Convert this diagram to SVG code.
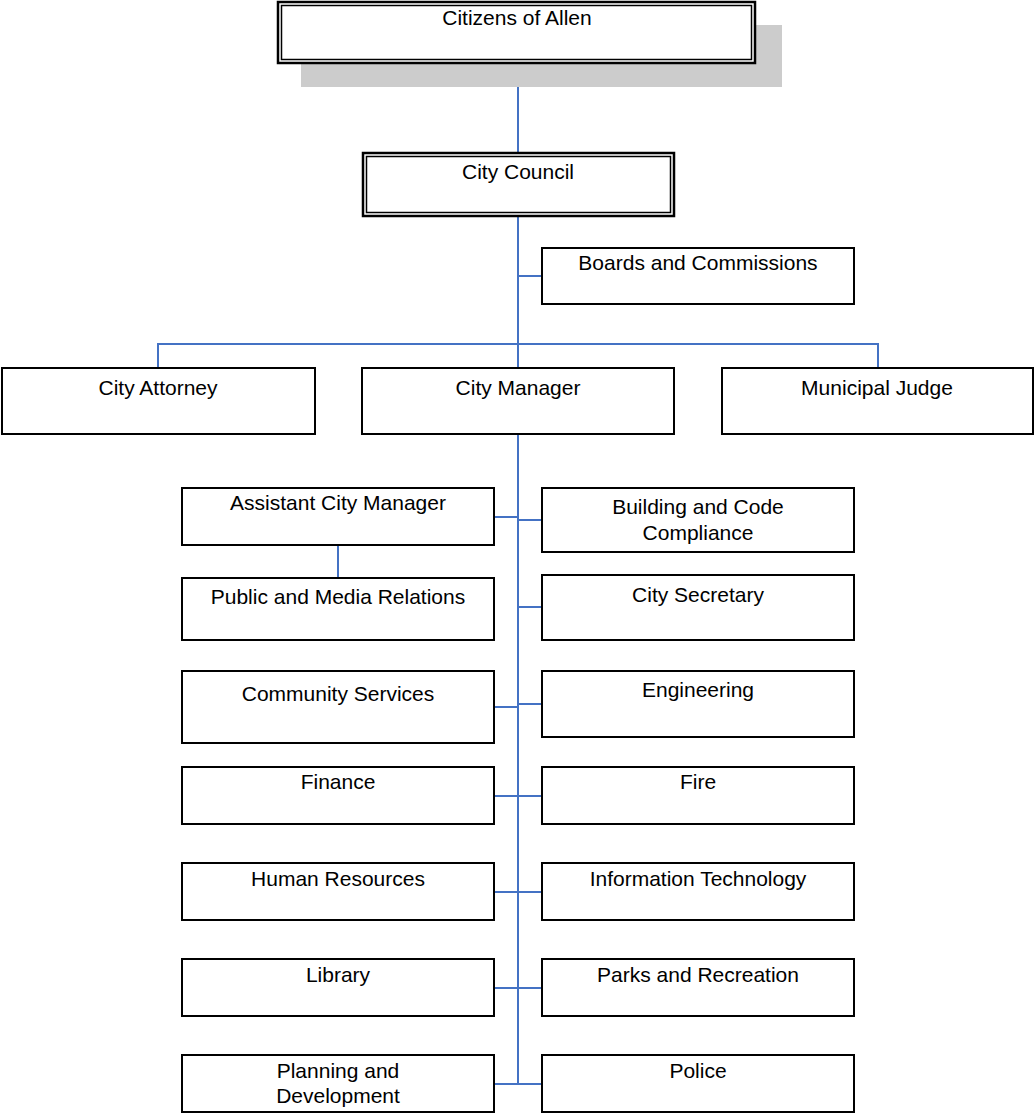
<svg xmlns="http://www.w3.org/2000/svg" width="1034" height="1114" viewBox="0 0 1034 1114">
<style>
.box{fill:#fff;stroke:#000;stroke-width:2}
.dbl{fill:#fff;stroke:#000;stroke-width:2.5}
.inner{fill:none;stroke:#000;stroke-width:1.5}
.lbl{font-family:"Liberation Sans",Arial,sans-serif;font-size:21px;fill:#000;text-anchor:middle}
.con{fill:none;stroke:#4472C4;stroke-width:2}
</style>
<rect width="1034" height="1114" fill="#fff"/>
<g id="connectors">
<path class="con" d="M518 63V152"/>
<path class="con" d="M518 216V368"/>
<path class="con" d="M518 276H542"/>
<path class="con" d="M158 368V344H878V368"/>
<path class="con" d="M518 434V1084"/>
<path class="con" d="M494 517H518M518 520H542"/>
<path class="con" d="M338 545V578"/>
<path class="con" d="M518 607H542"/>
<path class="con" d="M494 707H518M518 704H542"/>
<path class="con" d="M494 796H542"/>
<path class="con" d="M494 892H542"/>
<path class="con" d="M494 988H542"/>
<path class="con" d="M494 1084H542"/>
</g>
<g id="citizens">
<rect x="301" y="25" width="481" height="62" fill="#cccccc"/>
<rect class="dbl" x="278" y="2" width="477" height="61"/>
<rect class="inner" x="281.5" y="5.5" width="470" height="54"/>
<text class="lbl" x="517" y="25">Citizens of Allen</text>
</g>
<g id="council">
<rect class="dbl" x="363" y="153" width="311" height="63"/>
<rect class="inner" x="366.5" y="156.5" width="304" height="56"/>
<text class="lbl" x="518" y="179">City Council</text>
</g>
<g id="boards">
<rect class="box" x="542" y="248" width="312" height="56"/>
<text class="lbl" x="698" y="270">Boards and Commissions</text>
</g>
<g id="attorney">
<rect class="box" x="2" y="368" width="313" height="66"/>
<text class="lbl" x="158" y="395">City Attorney</text>
</g>
<g id="manager">
<rect class="box" x="362" y="368" width="312" height="66"/>
<text class="lbl" x="518" y="395">City Manager</text>
</g>
<g id="judge">
<rect class="box" x="722" y="368" width="311" height="66"/>
<text class="lbl" x="877" y="395">Municipal Judge</text>
</g>
<g id="asst">
<rect class="box" x="182" y="488" width="312" height="57"/>
<text class="lbl" x="338" y="510">Assistant City Manager</text>
</g>
<g id="building">
<rect class="box" x="542" y="488" width="312" height="64"/>
<text class="lbl" x="698" y="514">Building and Code</text>
<text class="lbl" x="698" y="540">Compliance</text>
</g>
<g id="public">
<rect class="box" x="182" y="578" width="312" height="62"/>
<text class="lbl" x="338" y="604">Public and Media Relations</text>
</g>
<g id="secretary">
<rect class="box" x="542" y="575" width="312" height="65"/>
<text class="lbl" x="698" y="602">City Secretary</text>
</g>
<g id="community">
<rect class="box" x="182" y="671" width="312" height="72"/>
<text class="lbl" x="338" y="701">Community Services</text>
</g>
<g id="engineering">
<rect class="box" x="542" y="671" width="312" height="66"/>
<text class="lbl" x="698" y="697">Engineering</text>
</g>
<g id="finance">
<rect class="box" x="182" y="767" width="312" height="57"/>
<text class="lbl" x="338" y="789">Finance</text>
</g>
<g id="fire">
<rect class="box" x="542" y="767" width="312" height="57"/>
<text class="lbl" x="698" y="789">Fire</text>
</g>
<g id="hr">
<rect class="box" x="182" y="863" width="312" height="57"/>
<text class="lbl" x="338" y="886">Human Resources</text>
</g>
<g id="it">
<rect class="box" x="542" y="863" width="312" height="57"/>
<text class="lbl" x="698" y="886">Information Technology</text>
</g>
<g id="library">
<rect class="box" x="182" y="959" width="312" height="57"/>
<text class="lbl" x="338" y="982">Library</text>
</g>
<g id="parks">
<rect class="box" x="542" y="959" width="312" height="57"/>
<text class="lbl" x="698" y="982">Parks and Recreation</text>
</g>
<g id="planning">
<rect class="box" x="182" y="1055" width="312" height="57"/>
<text class="lbl" x="338" y="1078">Planning and</text>
<text class="lbl" x="338" y="1103">Development</text>
</g>
<g id="police">
<rect class="box" x="542" y="1055" width="312" height="57"/>
<text class="lbl" x="698" y="1078">Police</text>
</g>
</svg>
